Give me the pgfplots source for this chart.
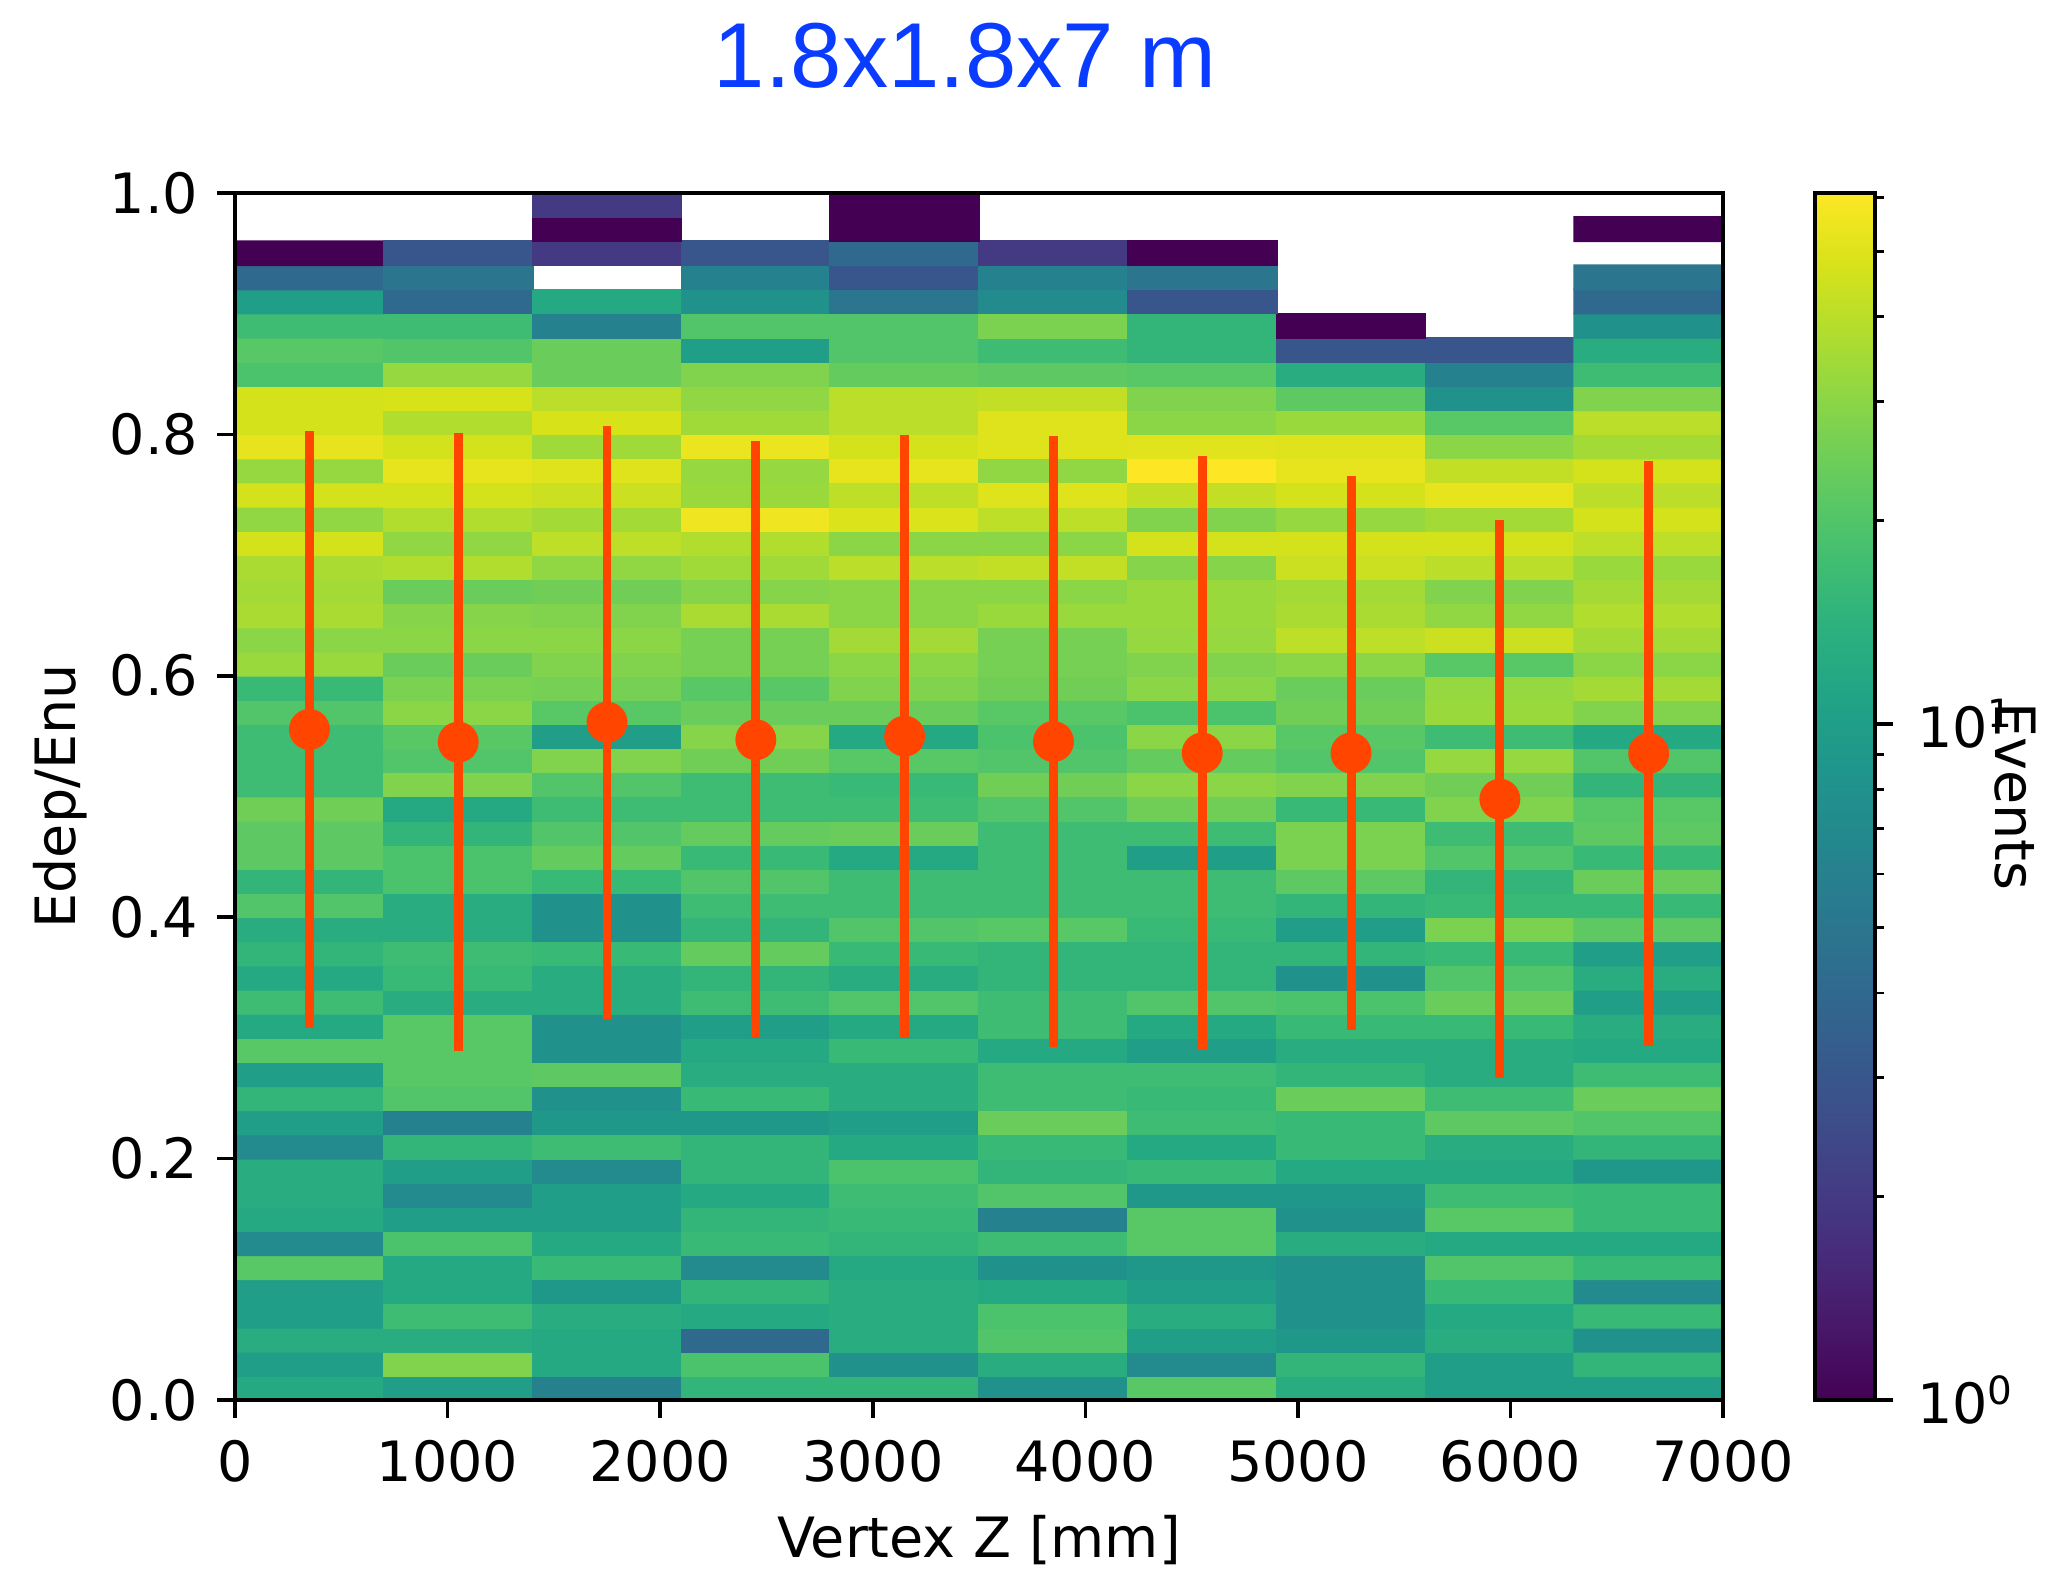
\documentclass[border=0pt]{standalone}
\usepackage{fontspec}
\setmainfont{DejaVu Sans}
\newfontfamily\titlefont{Liberation Sans}
\usepackage{pgfplots}
\usepackage{pgfplotstable}
\pgfplotsset{compat=1.18}
\definecolor{orangered}{HTML}{FF4500}
\definecolor{ttlblue}{HTML}{0A3CFF}
\begin{document}
\begin{tikzpicture}
\path[use as bounding box] (0,0) rectangle (460.1pt,352.8pt);
\begin{axis}[
  at={(52.875pt,37.8pt)}, anchor=south west,
  scale only axis, width=334.8pt, height=271.6pt,
  xmin=0, xmax=7000, ymin=0, ymax=1,
  xtick={0,1000,...,7000}, ytick={0,0.2,...,1.01},
  tick align=outside, tick pos=left,
  major tick length=4pt, every tick/.style={black,line width=0.8pt},
  axis line style={line width=0.8pt},
  axis on top,
  label style={font=\fontsize{12.5}{15}\selectfont},
  tick label style={font=\fontsize{12.5}{15}\selectfont},
  /pgf/number format/assume math mode=true,
  x tick label style={/pgf/number format/1000 sep={},yshift=-1.5pt},
  y tick label style={/pgf/number format/fixed,/pgf/number format/fixed zerofill,/pgf/number format/precision=1,xshift=-0.75pt},
  xlabel={Vertex Z [mm]}, ylabel={Edep/Enu},
  xlabel style={at={(axis description cs:0.5,-0.1157)},anchor=center},
  ylabel style={at={(axis description cs:-0.1177,0.5)},anchor=center},
  title={\titlefont\fontsize{20.75}{24}\selectfont\color{ttlblue}1.8x1.8x7 m},
  title style={at={(axis description cs:0.4906,1.0915)},anchor=center,yshift=0pt},
  colormap/viridis,
  point meta min=0, point meta max=1.7853,
  colorbar,
  colorbar style={
    at={(1.0618,0)}, anchor=south west,
    width=13.5pt, height=271.6pt,
    ytick={0,1}, yticklabels={10\textsuperscript{0},10\textsuperscript{1}},
    minor ytick={0.30103,0.47712,0.60206,0.69897,0.77815,0.84510,0.90309,0.95424,1.30103,1.47712,1.60206,1.69897,1.77815},
    major tick length=4pt, minor tick length=2pt,
    every tick/.style={black,line width=0.8pt},
    minor tick style={black,line width=0.6pt},
    tick align=outside, ytick pos=right,
    axis line style={line width=0.8pt},
    ylabel={Events},
    ylabel style={at={(axis description cs:3.345,0.5)},anchor=center,rotate=180,font=\fontsize{12.5}{15}\selectfont},
    tick label style={font=\fontsize{12.5}{15}\selectfont},
    y tick label style={xshift=1.95pt},
  },
]
\addplot[matrix plot*, mesh/cols=10, unbounded coords=jump, point meta=explicit]
 table[row sep=\\, x=x, y=y, meta expr={\thisrow{c}>0 ? ln(\thisrow{c})/ln(10) : nan}] {
x y c\\
350 0.01 12\\ 1050 0.01 10\\ 1750 0.01 6\\ 2450 0.01 15\\ 3150 0.01 15\\ 3850 0.01 8\\ 4550 0.01 21\\ 5250 0.01 13\\ 5950 0.01 10\\ 6650 0.01 10\\
350 0.03 10\\ 1050 0.03 28\\ 1750 0.03 12\\ 2450 0.03 19\\ 3150 0.03 8\\ 3850 0.03 13\\ 4550 0.03 7\\ 5250 0.03 15\\ 5950 0.03 10\\ 6650 0.03 15\\
350 0.05 13\\ 1050 0.05 13\\ 1750 0.05 12\\ 2450 0.05 4\\ 3150 0.05 13\\ 3850 0.05 20\\ 4550 0.05 10\\ 5250 0.05 9\\ 5950 0.05 13\\ 6650 0.05 8\\
350 0.07 10\\ 1050 0.07 17\\ 1750 0.07 13\\ 2450 0.07 12\\ 3150 0.07 13\\ 3850 0.07 19\\ 4550 0.07 13\\ 5250 0.07 8\\ 5950 0.07 12\\ 6650 0.07 16\\
350 0.09 10\\ 1050 0.09 12\\ 1750 0.09 9\\ 2450 0.09 15\\ 3150 0.09 13\\ 3850 0.09 12\\ 4550 0.09 10\\ 5250 0.09 8\\ 5950 0.09 16\\ 6650 0.09 7\\
350 0.11 21\\ 1050 0.11 12\\ 1750 0.11 16\\ 2450 0.11 7\\ 3150 0.11 12\\ 3850 0.11 8\\ 4550 0.11 9\\ 5250 0.11 8\\ 5950 0.11 20\\ 6650 0.11 16\\
350 0.13 7\\ 1050 0.13 19\\ 1750 0.13 12\\ 2450 0.13 16\\ 3150 0.13 15\\ 3850 0.13 17\\ 4550 0.13 21\\ 5250 0.13 13\\ 5950 0.13 12\\ 6650 0.13 12\\
350 0.15 12\\ 1050 0.15 10\\ 1750 0.15 10\\ 2450 0.15 15\\ 3150 0.15 16\\ 3850 0.15 6\\ 4550 0.15 21\\ 5250 0.15 8\\ 5950 0.15 21\\ 6650 0.15 16\\
350 0.17 13\\ 1050 0.17 7\\ 1750 0.17 10\\ 2450 0.17 12\\ 3150 0.17 17\\ 3850 0.17 20\\ 4550 0.17 9\\ 5250 0.17 9\\ 5950 0.17 17\\ 6650 0.17 16\\
350 0.19 13\\ 1050 0.19 10\\ 1750 0.19 7\\ 2450 0.19 15\\ 3150 0.19 19\\ 3850 0.19 15\\ 4550 0.19 16\\ 5250 0.19 12\\ 5950 0.19 12\\ 6650 0.19 9\\
350 0.21 7\\ 1050 0.21 15\\ 1750 0.21 17\\ 2450 0.21 15\\ 3150 0.21 12\\ 3850 0.21 16\\ 4550 0.21 12\\ 5250 0.21 16\\ 5950 0.21 13\\ 6650 0.21 15\\
350 0.23 10\\ 1050 0.23 6\\ 1750 0.23 9\\ 2450 0.23 9\\ 3150 0.23 10\\ 3850 0.23 24\\ 4550 0.23 17\\ 5250 0.23 16\\ 5950 0.23 22\\ 6650 0.23 20\\
350 0.25 15\\ 1050 0.25 20\\ 1750 0.25 8\\ 2450 0.25 16\\ 3150 0.25 13\\ 3850 0.25 17\\ 4550 0.25 16\\ 5250 0.25 24\\ 5950 0.25 17\\ 6650 0.25 24\\
350 0.27 10\\ 1050 0.27 21\\ 1750 0.27 22\\ 2450 0.27 13\\ 3150 0.27 13\\ 3850 0.27 17\\ 4550 0.27 17\\ 5250 0.27 15\\ 5950 0.27 13\\ 6650 0.27 17\\
350 0.29 21\\ 1050 0.29 21\\ 1750 0.29 8\\ 2450 0.29 12\\ 3150 0.29 16\\ 3850 0.29 12\\ 4550 0.29 10\\ 5250 0.29 13\\ 5950 0.29 13\\ 6650 0.29 12\\
350 0.31 12\\ 1050 0.31 21\\ 1750 0.31 8\\ 2450 0.31 10\\ 3150 0.31 12\\ 3850 0.31 17\\ 4550 0.31 12\\ 5250 0.31 16\\ 5950 0.31 16\\ 6650 0.31 13\\
350 0.33 17\\ 1050 0.33 13\\ 1750 0.33 13\\ 2450 0.33 17\\ 3150 0.33 20\\ 3850 0.33 17\\ 4550 0.33 20\\ 5250 0.33 19\\ 5950 0.33 24\\ 6650 0.33 10\\
350 0.35 12\\ 1050 0.35 16\\ 1750 0.35 13\\ 2450 0.35 15\\ 3150 0.35 13\\ 3850 0.35 15\\ 4550 0.35 15\\ 5250 0.35 8\\ 5950 0.35 20\\ 6650 0.35 13\\
350 0.37 15\\ 1050 0.37 17\\ 1750 0.37 16\\ 2450 0.37 23\\ 3150 0.37 16\\ 3850 0.37 15\\ 4550 0.37 15\\ 5250 0.37 15\\ 5950 0.37 16\\ 6650 0.37 10\\
350 0.39 13\\ 1050 0.39 13\\ 1750 0.39 8\\ 2450 0.39 15\\ 3150 0.39 20\\ 3850 0.39 21\\ 4550 0.39 16\\ 5250 0.39 10\\ 5950 0.39 27\\ 6650 0.39 22\\
350 0.41 20\\ 1050 0.41 13\\ 1750 0.41 8\\ 2450 0.41 17\\ 3150 0.41 17\\ 3850 0.41 17\\ 4550 0.41 17\\ 5250 0.41 15\\ 5950 0.41 16\\ 6650 0.41 16\\
350 0.43 15\\ 1050 0.43 19\\ 1750 0.43 16\\ 2450 0.43 20\\ 3150 0.43 17\\ 3850 0.43 17\\ 4550 0.43 17\\ 5250 0.43 22\\ 5950 0.43 15\\ 6650 0.43 24\\
350 0.45 22\\ 1050 0.45 19\\ 1750 0.45 23\\ 2450 0.45 16\\ 3150 0.45 12\\ 3850 0.45 17\\ 4550 0.45 10\\ 5250 0.45 27\\ 5950 0.45 20\\ 6650 0.45 16\\
350 0.47 22\\ 1050 0.47 15\\ 1750 0.47 20\\ 2450 0.47 23\\ 3150 0.47 24\\ 3850 0.47 17\\ 4550 0.47 17\\ 5250 0.47 27\\ 5950 0.47 17\\ 6650 0.47 22\\
350 0.49 25\\ 1050 0.49 12\\ 1750 0.49 17\\ 2450 0.49 17\\ 3150 0.49 17\\ 3850 0.49 20\\ 4550 0.49 25\\ 5250 0.49 16\\ 5950 0.49 28\\ 6650 0.49 21\\
350 0.51 17\\ 1050 0.51 28\\ 1750 0.51 20\\ 2450 0.51 17\\ 3150 0.51 16\\ 3850 0.51 25\\ 4550 0.51 30\\ 5250 0.51 28\\ 5950 0.51 25\\ 6650 0.51 15\\
350 0.53 17\\ 1050 0.53 20\\ 1750 0.53 28\\ 2450 0.53 25\\ 3150 0.53 21\\ 3850 0.53 20\\ 4550 0.53 23\\ 5250 0.53 20\\ 5950 0.53 32\\ 6650 0.53 20\\
350 0.55 17\\ 1050 0.55 21\\ 1750 0.55 10\\ 2450 0.55 29\\ 3150 0.55 12\\ 3850 0.55 19\\ 4550 0.55 30\\ 5250 0.55 21\\ 5950 0.55 17\\ 6650 0.55 12\\
350 0.57 20\\ 1050 0.57 30\\ 1750 0.57 21\\ 2450 0.57 24\\ 3150 0.57 24\\ 3850 0.57 21\\ 4550 0.57 19\\ 5250 0.57 25\\ 5950 0.57 33\\ 6650 0.57 28\\
350 0.59 16\\ 1050 0.59 27\\ 1750 0.59 26\\ 2450 0.59 21\\ 3150 0.59 28\\ 3850 0.59 25\\ 4550 0.59 30\\ 5250 0.59 24\\ 5950 0.59 32\\ 6650 0.59 35\\
350 0.61 33\\ 1050 0.61 24\\ 1750 0.61 28\\ 2450 0.61 26\\ 3150 0.61 30\\ 3850 0.61 26\\ 4550 0.61 28\\ 5250 0.61 30\\ 5950 0.61 21\\ 6650 0.61 30\\
350 0.63 30\\ 1050 0.63 30\\ 1750 0.63 30\\ 2450 0.63 26\\ 3150 0.63 35\\ 3850 0.63 26\\ 4550 0.63 32\\ 5250 0.63 41\\ 5950 0.63 44\\ 6650 0.63 35\\
350 0.65 36\\ 1050 0.65 29\\ 1750 0.65 28\\ 2450 0.65 36\\ 3150 0.65 30\\ 3850 0.65 33\\ 4550 0.65 33\\ 5250 0.65 36\\ 5950 0.65 31\\ 6650 0.65 38\\
350 0.67 35\\ 1050 0.67 24\\ 1750 0.67 25\\ 2450 0.67 29\\ 3150 0.67 30\\ 3850 0.67 30\\ 4550 0.67 33\\ 5250 0.67 35\\ 5950 0.67 28\\ 6650 0.67 35\\
350 0.69 36\\ 1050 0.69 38\\ 1750 0.69 31\\ 2450 0.69 34\\ 3150 0.69 40\\ 3850 0.69 42\\ 4550 0.69 29\\ 5250 0.69 44\\ 5950 0.69 40\\ 6650 0.69 33\\
350 0.71 47\\ 1050 0.71 31\\ 1750 0.71 41\\ 2450 0.71 38\\ 3150 0.71 30\\ 3850 0.71 30\\ 4550 0.71 47\\ 5250 0.71 47\\ 5950 0.71 47\\ 6650 0.71 41\\
350 0.73 31\\ 1050 0.73 38\\ 1750 0.73 35\\ 2450 0.73 56\\ 3150 0.73 49\\ 3850 0.73 41\\ 4550 0.73 28\\ 5250 0.73 32\\ 5950 0.73 35\\ 6650 0.73 47\\
350 0.75 47\\ 1050 0.75 47\\ 1750 0.75 44\\ 2450 0.75 33\\ 3150 0.75 41\\ 3850 0.75 50\\ 4550 0.75 42\\ 5250 0.75 47\\ 5950 0.75 53\\ 6650 0.75 40\\
350 0.77 32\\ 1050 0.77 53\\ 1750 0.77 50\\ 2450 0.77 32\\ 3150 0.77 53\\ 3850 0.77 31\\ 4550 0.77 61\\ 5250 0.77 53\\ 5950 0.77 42\\ 6650 0.77 47\\
350 0.79 53\\ 1050 0.79 47\\ 1750 0.79 34\\ 2450 0.79 54\\ 3150 0.79 47\\ 3850 0.79 50\\ 4550 0.79 51\\ 5250 0.79 50\\ 5950 0.79 30\\ 6650 0.79 35\\
350 0.81 47\\ 1050 0.81 38\\ 1750 0.81 48\\ 2450 0.81 34\\ 3150 0.81 40\\ 3850 0.81 50\\ 4550 0.81 30\\ 5250 0.81 33\\ 5950 0.81 21\\ 6650 0.81 40\\
350 0.83 47\\ 1050 0.83 48\\ 1750 0.83 40\\ 2450 0.83 31\\ 3150 0.83 40\\ 3850 0.83 42\\ 4550 0.83 28\\ 5250 0.83 22\\ 5950 0.83 8\\ 6650 0.83 28\\
350 0.85 19\\ 1050 0.85 32\\ 1750 0.85 24\\ 2450 0.85 28\\ 3150 0.85 23\\ 3850 0.85 22\\ 4550 0.85 21\\ 5250 0.85 13\\ 5950 0.85 6\\ 6650 0.85 17\\
350 0.87 21\\ 1050 0.87 20\\ 1750 0.87 24\\ 2450 0.87 10\\ 3150 0.87 20\\ 3850 0.87 17\\ 4550 0.87 15\\ 5250 0.87 3\\ 5950 0.87 3\\ 6650 0.87 13\\
350 0.89 17\\ 1050 0.89 17\\ 1750 0.89 6\\ 2450 0.89 20\\ 3150 0.89 20\\ 3850 0.89 27\\ 4550 0.89 15\\ 5250 0.89 1\\ 5950 0.89 nan\\ 6650 0.89 8\\
350 0.91 10\\ 1050 0.91 4\\ 1750 0.91 12\\ 2450 0.91 8\\ 3150 0.91 5\\ 3850 0.91 7\\ 4550 0.91 3\\ 5250 0.91 nan\\ 5950 0.91 nan\\ 6650 0.91 4\\
350 0.93 4\\ 1050 0.93 5\\ 1750 0.93 nan\\ 2450 0.93 6\\ 3150 0.93 3\\ 3850 0.93 6\\ 4550 0.93 5\\ 5250 0.93 nan\\ 5950 0.93 nan\\ 6650 0.93 5\\
350 0.95 1\\ 1050 0.95 3\\ 1750 0.95 2\\ 2450 0.95 3\\ 3150 0.95 4\\ 3850 0.95 2\\ 4550 0.95 1\\ 5250 0.95 nan\\ 5950 0.95 nan\\ 6650 0.95 nan\\
350 0.97 nan\\ 1050 0.97 nan\\ 1750 0.97 1\\ 2450 0.97 nan\\ 3150 0.97 1\\ 3850 0.97 nan\\ 4550 0.97 nan\\ 5250 0.97 nan\\ 5950 0.97 nan\\ 6650 0.97 1\\
350 0.99 nan\\ 1050 0.99 nan\\ 1750 0.99 2\\ 2450 0.99 nan\\ 3150 0.99 1\\ 3850 0.99 nan\\ 4550 0.99 nan\\ 5250 0.99 nan\\ 5950 0.99 nan\\ 6650 0.99 nan\\
};
\addplot[only marks, mark=*, mark size=4.4pt, color=orangered, mark options={draw=orangered,fill=orangered},
  error bars/.cd, y dir=both, y explicit, error bar style={line width=2pt,orangered}, error mark=none]
 coordinates {
 (350,0.5555) +- (0,0.2475)
 (1050,0.545) +- (0,0.256)
 (1750,0.5615) +- (0,0.2455)
 (2450,0.547) +- (0,0.2472)
 (3150,0.550) +- (0,0.2498)
 (3850,0.5455) +- (0,0.253)
 (4550,0.536) +- (0,0.246)
 (5250,0.536) +- (0,0.2295)
 (5950,0.4977) +- (0,0.2313)
 (6650,0.5357) +- (0,0.242)
 };
\end{axis}
\end{tikzpicture}
\end{document}
